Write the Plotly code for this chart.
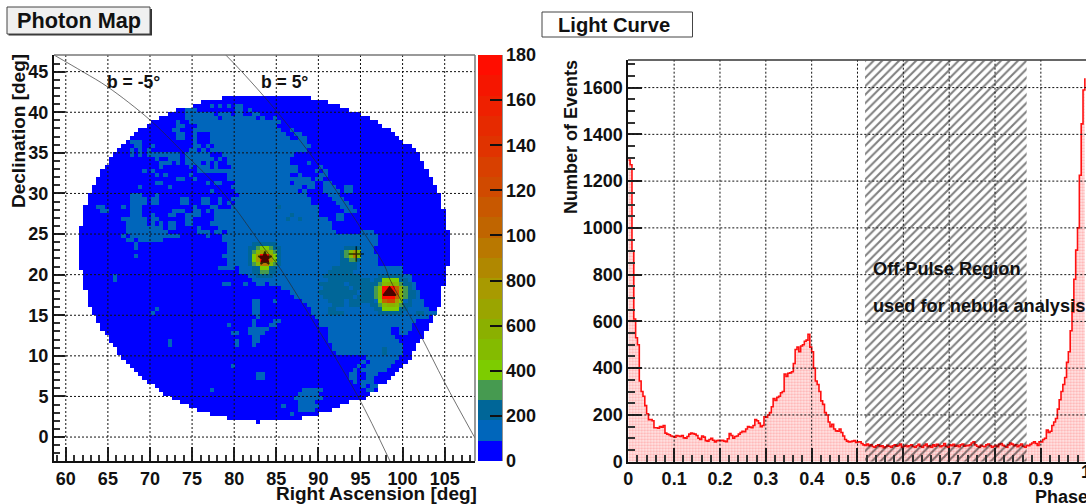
import plotly.graph_objects as go

W, H = 1086, 504

# ---------- Photon map data ----------
RA_FIRST_EDGE = 58.6
DEC_TOP_EDGE = 47.05
CELL_DEG = 0.5
N_CELLS = 100
LEVEL_WIDTH = 90   # counts per colour band
TOP_ROW = 10
COVER_FIRST = [40,35,33,29,27,25,23,22,20,19,
               18,17,16,15,14,13,13,12,11,11,
               10,10,9,9,8,8,8,7,7,7,
               7,7,6,6,6,6,6,6,6,6,
               6,6,6,7,7,7,7,7,8,8,
               8,8,9,9,10,10,11,11,12,13,
               13,14,15,15,16,17,18,19,20,21,
               22,24,25,26,28,30,32,34,37,41,
               48]
COVER_LAST = [60,64,67,69,72,74,76,77,79,80,
              81,82,84,85,86,86,87,87,88,88,
              89,89,90,90,91,91,91,91,92,92,
              92,92,92,93,93,93,93,93,93,93,
              93,93,92,92,92,92,92,91,91,91,
              91,91,90,90,89,89,88,88,87,87,
              86,85,85,84,84,83,82,81,80,79,
              78,76,76,74,73,69,67,65,62,58,
              48]
# level-1 cells: row -> [first column, last column] runs
LEVEL1_RUNS = {
 12:[(37,37),(39,39),(41,41),(43,44)],
 13:[(31,33),(43,44),(46,46)],
 14:[(31,37),(39,41),(43,44),(47,48)],
 15:[(31,38),(40,47),(49,49),(52,52)],
 16:[(29,29),(32,53)],
 17:[(29,30),(34,52)],
 18:[(28,29),(33,53),(56,56)],
 19:[(29,30),(33,33),(37,54),(57,58)],
 20:[(29,30),(33,33),(37,55),(58,59)],
 21:[(18,20),(33,33),(37,59)],
 22:[(19,20),(23,23),(33,34),(36,36),(38,60)],
 23:[(18,18),(20,20),(22,22),(32,33),(35,35),(37,59)],
 24:[(18,18),(20,20),(22,29),(31,36),(40,56)],
 25:[(24,24),(27,29),(31,37),(39,39),(41,55)],
 26:[(25,27),(29,29),(31,34),(36,36),(38,38),(41,55),(60,60)],
 27:[(25,25),(32,32),(34,36),(38,38),(42,57),(63,63)],
 28:[(21,21),(23,23),(34,57),(62,62),(64,64)],
 29:[(24,24),(26,26),(32,32),(41,55),(58,58),(63,64)],
 30:[(29,30),(33,33),(41,60),(62,63)],
 31:[(24,25),(36,36),(38,39),(43,55),(57,61),(64,65)],
 32:[(20,20),(27,27),(42,58),(60,61),(64,66),(69,70)],
 33:[(37,37),(43,57),(59,59),(64,67),(69,70)],
 34:[(18,20),(24,24),(44,59),(65,67)],
 35:[(18,21),(23,24),(30,31),(35,36),(39,39),(42,60),(66,68)],
 36:[(18,21),(23,24),(30,31),(35,36),(39,39),(41,41),(43,60),(67,69)],
 37:[(10,11),(16,16),(18,20),(33,33),(37,38),(42,62),(68,70)],
 38:[(11,12),(18,20),(28,30),(33,34),(36,36),(38,62),(69,71)],
 39:[(18,20),(23,23),(27,28),(31,34),(38,62),(67,68)],
 40:[(16,21),(23,24),(31,32),(38,64),(67,68)],
 41:[(17,21),(23,23),(25,25),(27,28),(31,32),(37,65)],
 42:[(17,25),(27,28),(34,34),(39,65)],
 43:[(17,26),(34,36),(38,39),(41,66),(73,75)],
 44:[(16,16),(18,29),(36,36),(40,76)],
 45:[(17,18),(20,25),(40,76)],
 46:[(19,19),(41,76)],
 47:[(19,19),(41,75)],
 48:[(41,75)],
 49:[(19,19),(40,76)],
 50:[(41,76)],
 51:[(41,76)],
 52:[(39,42),(44,82)],
 53:[(44,82)],
 54:[(14,14),(46,84)],
 55:[(14,14),(47,84)],
 56:[(40,41),(45,45),(48,49),(51,85)],
 57:[(54,85)],
 58:[(56,86)],
 59:[(57,86)],
 60:[(47,48),(52,52),(59,87)],
 61:[(47,48),(60,87)],
 62:[(24,24),(47,48),(61,88)],
 63:[(23,23),(47,48),(61,90)],
 64:[(48,48),(62,88)],
 65:[(47,47),(52,53),(63,85)],
 66:[(41,41),(47,47),(51,52),(63,84)],
 67:[(46,50),(65,79),(82,84)],
 68:[(42,43),(46,49),(65,79),(82,83)],
 69:[(47,48),(65,80)],
 70:[(27,27),(43,43),(47,48),(65,81)],
 71:[(27,27),(43,43),(47,47),(66,82)],
 72:[(66,82)],
 73:[(67,82)],
 74:[(74,81)],
 75:[(73,73),(75,80)],
 76:[(42,42),(72,72),(74,79)],
 77:[(71,71),(73,78)],
 78:[(48,49),(70,71),(74,76)],
 79:[(48,49),(70,71),(74,75)],
 80:[(71,71),(73,75)],
 81:[(73,73),(75,76)],
 82:[(37,37),(59,63),(74,75)],
 83:[(58,62)],
 84:[(57,63)],
 85:[(58,61)],
 86:[(54,54),(58,62)],
 87:[(58,61)],
 88:[(56,56)],
}
# level-2 cells (darker teal patches)
LEVEL2_RUNS = {
 37:[(53,53)], 39:[(56,56)], 40:[(55,55),(58,58)],
 46:[(47,52)], 47:[(46,47),(52,53),(69,72)], 48:[(46,46),(53,53),(68,68)],
 49:[(46,46),(53,53),(68,68)], 50:[(46,46),(53,53),(68,69),(72,72)],
 51:[(46,46),(53,53),(68,71)], 52:[(47,48),(51,52),(66,71)], 53:[(47,48),(51,52),(65,70)],
 54:[(48,51),(64,72),(77,82)], 55:[(65,74),(76,77),(82,83)], 56:[(63,68),(70,74),(75,76),(83,84)],
 57:[(64,69),(71,75),(84,84)], 58:[(63,71),(73,75),(84,85)], 59:[(64,70),(72,75),(84,85)],
 60:[(65,68),(70,75),(84,84)], 61:[(66,68),(70,72),(75,76),(83,84)], 62:[(65,66),(76,77),(82,83)],
 63:[(65,68),(77,82),(86,87)], 72:[(78,78)], 73:[(78,78)],
}
# bright source cells: (row, column, colour level)
CRAB_CELLS = [(47,48,3),(47,49,4),(47,50,4),(47,51,3),
 (48,47,3),(48,48,5),(48,49,7),(48,50,7),(48,51,5),(48,52,3),
 (49,47,4),(49,48,8),(49,49,19),(49,50,19),(49,51,8),(49,52,4),
 (50,47,4),(50,48,8),(50,49,19),(50,50,19),(50,51,8),(50,52,4),
 (51,47,3),(51,48,5),(51,49,10),(51,50,10),(51,51,5),(51,52,3),
 (52,49,4),(52,50,4),(53,49,3),(53,50,3)]
GEMINGA_CELLS = [(48,69,3),(48,70,5),(48,71,8),(48,72,5),
 (49,69,3),(49,70,5),(49,71,10),(49,72,5),(50,70,3),(50,71,3)]
ANTICENTER_CELLS = [(55,78,4),(55,79,4),(55,80,4),(55,81,4),
 (56,77,3),(56,78,5),(56,79,6),(56,80,6),(56,81,5),(56,82,3),
 (57,76,3),(57,77,5),(57,78,19),(57,79,19),(57,80,19),(57,81,11),(57,82,6),(57,83,3),
 (58,76,3),(58,77,5),(58,78,19),(58,79,19),(58,80,19),(58,81,13),(58,82,6),(58,83,3),
 (59,76,3),(59,77,5),(59,78,19),(59,79,19),(59,80,19),(59,81,11),(59,82,6),(59,83,3),
 (60,77,4),(60,78,11),(60,79,13),(60,80,13),(60,81,8),(60,82,4),
 (61,77,3),(61,78,5),(61,79,6),(61,80,6),(61,81,5),(61,82,3),
 (62,78,4),(62,79,4),(62,80,4),(62,81,4)]

LEVEL_COLORS = ["#0000ff","#0066bb","#006698","#469a50","#7dcc00","#84bb00","#8bb000",
 "#9aa500","#a89a00","#b08800","#b97800","#c06500","#c85800","#d04a00","#d84000",
 "#e03300","#e62a00","#ee2000","#f51600","#ff0d00"]
COLORBAR_TICKS = [0,200,400,600,800,1000,1200,1400,1600,1800]
COLORBAR_LABELS = ["0","200","400","600","800","100","120","140","160","180"]

B_MINUS_RA  = [58.6,62.05,65.0,70.0,73.9,78.7,83.7,85.0,90.0,94.7,98.5]
B_MINUS_DEC = [47.05,44.97,43.1,39.05,35.1,30.05,23.05,21.45,13.2,5.0,-2.95]
B_PLUS_RA   = [79.0,80.9,85.06,90.0,95.0,97.9,98.5,102.1,105.0,108.5]
B_PLUS_DEC  = [47.05,45.0,40.1,33.5,25.8,21.0,19.4,12.6,6.7,0.05]

SOURCE_RA = [83.65, 94.5, 98.45]
SOURCE_DEC = [22.0, 22.55, 17.8]
SOURCE_SYMBOLS = ["star","cross-thin","triangle-up"]

# ---------- Light curve data ----------
PHASE_BIN = 0.004
COUNTS = [1290,1270,900,610,530,500,345,300,280,240,
 205,180,180,175,145,145,143,150,148,155,
 122,118,115,110,108,105,112,110,108,112,
 102,100,108,118,122,120,118,112,100,95,
 110,105,90,88,95,100,92,85,90,92,
 90,92,88,86,98,120,112,100,108,110,
 118,125,130,128,140,150,148,145,155,180,
 175,165,150,155,192,190,200,210,235,270,
 262,275,280,295,300,375,365,378,380,385,
 420,480,490,470,495,500,515,520,545,490,
 470,400,345,330,300,260,245,210,200,170,
 150,160,140,132,130,140,125,110,95,88,
 85,86,88,90,82,85,85,78,72,70,
 75,68,72,65,62,68,72,65,68,60,
 64,70,66,62,68,72,66,70,75,62,
 66,70,64,68,72,65,62,68,74,66,
 62,70,75,64,68,62,72,66,74,70,
 64,68,78,66,62,72,68,74,66,70,
 64,72,76,66,70,68,72,80,85,72,
 66,62,70,66,64,72,76,68,62,66,
 70,64,74,78,70,66,62,72,80,75,
 68,72,64,70,76,66,62,70,68,74,
 80,85,78,70,85,85,95,100,135,125,
 130,155,170,185,225,265,300,330,360,425,
 470,560,640,780,905,1000,1225,1445,1590,1640]
OFF_PULSE_PHASE = [0.5165, 0.5165, 0.869, 0.869, 0.5165]
OFF_PULSE_LEVEL = [0, 1715, 1715, 0, 0]


# ---------- helpers (page pixels to paper fractions) ----------
def px(x): return x / W
def py(y): return 1 - y / H


z = [[None] * N_CELLS for _ in range(N_CELLS)]
for i, (a, b) in enumerate(zip(COVER_FIRST, COVER_LAST)):
    for c in range(a, b + 1):
        z[TOP_ROW + i][c] = 0.5 * LEVEL_WIDTH
for runs, lev in ((LEVEL1_RUNS, 1), (LEVEL2_RUNS, 2)):
    for r, spans in runs.items():
        for a, b in spans:
            for c in range(a, b + 1):
                z[r][c] = (lev + 0.5) * LEVEL_WIDTH
for r, c, lev in CRAB_CELLS + GEMINGA_CELLS + ANTICENTER_CELLS:
    z[r][c] = (lev + 0.5) * LEVEL_WIDTH

n_lev = len(LEVEL_COLORS)
colorscale = []
for i, col in enumerate(LEVEL_COLORS):
    colorscale += [[i / n_lev, col], [(i + 1) / n_lev, col]]

ra_centers = [RA_FIRST_EDGE + CELL_DEG * (i + 0.5) for i in range(N_CELLS)]
dec_centers = [DEC_TOP_EDGE - CELL_DEG * (i + 0.5) for i in range(N_CELLS)]
phase_edges = [PHASE_BIN * i for i in range(len(COUNTS))]

FONT = "Liberation Sans"
TICK = dict(family=FONT, size=18, color="#111", weight="bold")

fig = go.Figure()
fig.add_trace(go.Heatmap(
    x=ra_centers, y=dec_centers, z=z, zmin=0, zmax=1800, colorscale=colorscale,
    hoverongaps=False, xaxis="x", yaxis="y",
    colorbar=dict(
        xref="container", yref="container",
        x=px(478), xanchor="left", xpad=0, y=py(55), yanchor="top", ypad=0,
        lenmode="pixels", len=406, thicknessmode="pixels", thickness=23.5,
        tickvals=COLORBAR_TICKS, ticktext=COLORBAR_LABELS, ticks="inside", ticklen=12,
        tickwidth=1.5, tickcolor="#111", tickfont=TICK, outlinewidth=0),
))
fig.add_trace(go.Scatter(x=B_MINUS_RA, y=B_MINUS_DEC, mode="lines", line=dict(color="rgba(40,40,40,0.65)", width=1, shape="spline"), xaxis="x", yaxis="y"))
fig.add_trace(go.Scatter(x=B_PLUS_RA, y=B_PLUS_DEC, mode="lines", line=dict(color="rgba(40,40,40,0.65)", width=1, shape="spline"), xaxis="x", yaxis="y"))
fig.add_trace(go.Scatter(x=SOURCE_RA, y=SOURCE_DEC, mode="markers", xaxis="x", yaxis="y",
    marker=dict(symbol=SOURCE_SYMBOLS, color="black", size=[10, 11, 11], line=dict(color="black", width=1.5))))

fig.add_trace(go.Scatter(
    x=phase_edges, y=COUNTS, mode="lines", xaxis="x2", yaxis="y2", fill="tozeroy",
    line=dict(color="#ff1010", width=1.6, shape="hv"),
    fillcolor="rgba(255,205,205,1)",
    fillpattern=dict(shape=".", size=3, solidity=0.45, fgcolor="#ff8080", bgcolor="#ffe6e6"),
))
fig.add_trace(go.Scatter(
    x=OFF_PULSE_PHASE, y=OFF_PULSE_LEVEL, mode="lines", xaxis="x2", yaxis="y2", fill="toself",
    line=dict(color="rgba(0,0,0,0)", width=0),
    fillpattern=dict(shape="/", size=6, solidity=0.34, fgcolor="#000", bgcolor="rgba(0,0,0,0)"),
))

AX = dict(showgrid=False, zeroline=False, showline=True, linecolor="#111", linewidth=2,
          ticks="inside", tickcolor="#222", tickwidth=1.5, tickfont=TICK, automargin=False)
fig.update_layout(
    width=W, height=H, margin=dict(l=0, r=0, t=0, b=0, autoexpand=False), autosize=False, showlegend=False,
    paper_bgcolor="white", plot_bgcolor="white",
    xaxis=dict(AX, domain=[px(54), px(475)], range=[58.6, 108.6], tickvals=list(range(60, 106, 5)), ticklen=14,
               minor=dict(ticks="inside", dtick=1, tick0=60, ticklen=6, tickwidth=1.5, tickcolor="#333"), anchor="y"),
    yaxis=dict(AX, domain=[py(461), py(55)], range=[-2.95, 47.05], tickvals=list(range(0, 46, 5)), ticklen=11,
               minor=dict(ticks="inside", dtick=1, tick0=0, ticklen=6, tickwidth=1.5, tickcolor="#333"), anchor="x"),
    xaxis2=dict(AX, domain=[px(628.3), 1], range=[0, 0.9985], tickvals=[0, .1, .2, .3, .4, .5, .6, .7, .8, .9],
                ticktext=["0", "0.1", "0.2", "0.3", "0.4", "0.5", "0.6", "0.7", "0.8", "0.9"], ticklen=14,
                minor=dict(ticks="inside", dtick=0.02, tick0=0, ticklen=7, tickwidth=1.5, tickcolor="#333"), anchor="y2"),
    yaxis2=dict(AX, domain=[py(461.7), py(60)], range=[0, 1718], tickvals=list(range(0, 1601, 200)), ticklen=14,
                minor=dict(ticks="inside", dtick=50, tick0=0, ticklen=7, tickwidth=1.5, tickcolor="#333"), anchor="x2"),
)

shapes = []
GRID = dict(color="#111", width=1, dash="2px,2px")
for v in range(60, 106, 5):
    shapes.append(dict(type="line", xref="x", yref="y", x0=v, x1=v, y0=-2.95, y1=47.05, line=GRID, layer="above"))
for v in range(0, 46, 5):
    shapes.append(dict(type="line", xref="x", yref="y", x0=58.6, x1=108.6, y0=v, y1=v, line=GRID, layer="above"))
for v in [.1, .2, .3, .4, .5, .6, .7, .8, .9]:
    shapes.append(dict(type="line", xref="x2", yref="y2", x0=v, x1=v, y0=0, y1=1718, line=GRID, layer="above"))
for v in range(200, 1601, 200):
    shapes.append(dict(type="line", xref="x2", yref="y2", x0=0, x1=0.9985, y0=v, y1=v, line=GRID, layer="above"))
# gray top/right frame
FRAME = dict(color="#777", width=1.5)
shapes.append(dict(type="line", xref="paper", yref="paper", x0=px(54), x1=px(475), y0=py(55), y1=py(55), line=FRAME))
shapes.append(dict(type="line", xref="paper", yref="paper", x0=px(475), x1=px(475), y0=py(55), y1=py(461), line=FRAME))
shapes.append(dict(type="line", xref="paper", yref="paper", x0=px(628), x1=1, y0=py(60), y1=py(60), line=dict(color="#333", width=1.5)))
# colour bar spine
shapes.append(dict(type="line", xref="paper", yref="paper", x0=px(501.7), x1=px(501.7), y0=py(55), y1=py(461), line=dict(color="#111", width=1.5)))
# title boxes
shapes.append(dict(type="rect", xref="paper", yref="paper", x0=px(8.5), x1=px(152), y0=py(9), y1=py(35.5), fillcolor="#333", line=dict(width=0)))
shapes.append(dict(type="rect", xref="paper", yref="paper", x0=px(7), x1=px(150), y0=py(7), y1=py(34), fillcolor="#f0f0f0", line=dict(color="#444", width=1)))
shapes.append(dict(type="rect", xref="paper", yref="paper", x0=px(542), x1=px(692.5), y0=py(12), y1=py(37), fillcolor="white", line=dict(color="#444", width=1)))
fig.update_layout(shapes=shapes)


def label(text, x, y, size=19, angle=0, xanchor="center"):
    return dict(text=text, x=px(x), y=py(y), xref="paper", yref="paper", showarrow=False, textangle=angle,
                xanchor=xanchor, yanchor="middle", font=dict(family=FONT, size=size, color="#111", weight="bold"))


fig.update_layout(annotations=[
    label("Photon Map", 79, 21, 21.7),
    label("Light Curve", 614, 25, 20.2),
    label("Right Ascension [deg]", 376, 493, 19),
    label("Declination [deg]", 19, 131, 19, -90),
    label("Number of Events", 571, 137, 18, -90),
    label("Phase", 1033, 497, 18, xanchor="left"),
    label("1", 1086, 472, 18),
    label("b = -5°", 133, 82, 17.5),
    label("b = 5°", 284, 82, 17.5),
    label("Off-Pulse Region", 871, 269, 18.2, xanchor="left"),
    label("used for nebula analysis", 871, 306, 18.2, xanchor="left"),
])

fig.write_html("out.html", config=dict(displayModeBar=False),
               post_script="document.body.style.margin='0';document.body.style.overflow='hidden';")
